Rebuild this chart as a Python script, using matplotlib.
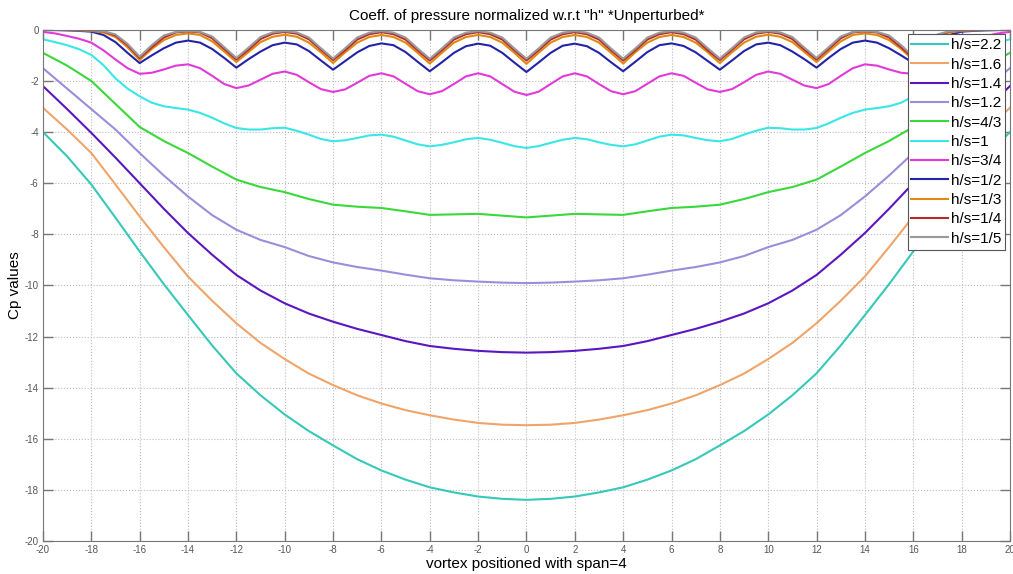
import numpy as np
from matplotlib import pyplot as plt

# x positions of the vortex (coarse for smooth curves, fine for wavy ones)
x_coarse = np.arange(-20, 21, 1)
x_fine = np.arange(-20, 20.5, 0.5)

labels = ['h/s=2.2', 'h/s=1.6', 'h/s=1.4', 'h/s=1.2', 'h/s=4/3', 'h/s=1',
          'h/s=3/4', 'h/s=1/2', 'h/s=1/3', 'h/s=1/4', 'h/s=1/5']
colors = ['#36C8B8', '#F0A46A', '#5B16C2', '#9A8EDC', '#3AD83A', '#3AE6E6',
          '#E23AD8', '#2323A8', '#E08A10', '#B82A2A', '#9A9A9A']

# smooth curves, step 1
cp_22 = [-4.0, -4.95, -6.05, -7.35, -8.67, -9.95, -11.16, -12.35, -13.44, -14.3, -15.05,
         -15.7, -16.26, -16.8, -17.24, -17.6, -17.9, -18.1, -18.26, -18.35, -18.39,
         -18.35, -18.26, -18.1, -17.9, -17.6, -17.24, -16.8, -16.26, -15.7, -15.05,
         -14.3, -13.44, -12.35, -11.16, -9.95, -8.67, -7.35, -6.05, -4.95, -4.0]
cp_16 = [-3.05, -3.9, -4.82, -6.05, -7.3, -8.5, -9.65, -10.6, -11.48, -12.25, -12.88,
         -13.45, -13.9, -14.3, -14.62, -14.88, -15.08, -15.25, -15.38, -15.45, -15.47,
         -15.45, -15.38, -15.25, -15.08, -14.88, -14.62, -14.3, -13.9, -13.45, -12.88,
         -12.25, -11.48, -10.6, -9.65, -8.5, -7.3, -6.05, -4.82, -3.9, -3.05]
cp_14 = [-2.2, -3.1, -4.03, -5.0, -6.0, -7.0, -7.95, -8.8, -9.59, -10.2, -10.7,
         -11.1, -11.42, -11.7, -11.94, -12.18, -12.37, -12.48, -12.56, -12.61, -12.63,
         -12.61, -12.56, -12.48, -12.37, -12.18, -11.94, -11.7, -11.42, -11.1, -10.7,
         -10.2, -9.59, -8.8, -7.95, -7.0, -6.0, -5.0, -4.03, -3.1, -2.2]
cp_12 = [-1.5, -2.3, -3.1, -3.9, -4.82, -5.7, -6.52, -7.25, -7.82, -8.22, -8.5,
         -8.85, -9.1, -9.28, -9.42, -9.58, -9.72, -9.8, -9.85, -9.89, -9.91,
         -9.89, -9.85, -9.8, -9.72, -9.58, -9.42, -9.28, -9.1, -8.85, -8.5,
         -8.22, -7.82, -7.25, -6.52, -5.7, -4.82, -3.9, -3.1, -2.3, -1.5]
cp_43 = [-0.9, -1.4, -2.0, -2.9, -3.8, -4.35, -4.82, -5.35, -5.86, -6.15, -6.35,
         -6.62, -6.84, -6.92, -6.97, -7.1, -7.24, -7.22, -7.2, -7.27, -7.34,
         -7.27, -7.2, -7.22, -7.24, -7.1, -6.97, -6.92, -6.84, -6.62, -6.35,
         -6.15, -5.86, -5.35, -4.82, -4.35, -3.8, -2.9, -2.0, -1.4, -0.9]

# wavy curves, step 0.5
cp_1 = [-0.37, -0.48, -0.6, -0.76, -0.98, -1.38, -1.9, -2.3, -2.6,
        -2.85, -2.99, -3.06, -3.12, -3.25, -3.44, -3.66, -3.84,
        -3.9, -3.9, -3.85, -3.83, -3.95, -4.1, -4.27, -4.36,
        -4.32, -4.23, -4.13, -4.1, -4.18, -4.33, -4.48, -4.56,
        -4.5, -4.4, -4.28, -4.23, -4.3, -4.42, -4.55, -4.62,
        -4.55, -4.42, -4.3, -4.23, -4.28, -4.4, -4.5, -4.56,
        -4.48, -4.33, -4.18, -4.1, -4.13, -4.23, -4.32, -4.36,
        -4.27, -4.1, -3.95, -3.83, -3.85, -3.9, -3.9, -3.84,
        -3.66, -3.44, -3.25, -3.12, -3.06, -2.99, -2.85, -2.6,
        -2.3, -1.9, -1.38, -0.98, -0.76, -0.6, -0.48, -0.37]
cp_34 = [-0.08, -0.14, -0.24, -0.35, -0.5, -0.8, -1.16, -1.5, -1.72,
         -1.68, -1.55, -1.4, -1.35, -1.5, -1.8, -2.12, -2.28,
         -2.18, -1.95, -1.72, -1.63, -1.76, -2.05, -2.32, -2.43,
         -2.33, -2.07, -1.8, -1.7, -1.82, -2.11, -2.4, -2.52,
         -2.4, -2.12, -1.82, -1.7, -1.82, -2.12, -2.42, -2.55,
         -2.42, -2.12, -1.82, -1.7, -1.82, -2.12, -2.4, -2.52,
         -2.4, -2.11, -1.82, -1.7, -1.8, -2.07, -2.33, -2.43,
         -2.32, -2.05, -1.76, -1.63, -1.72, -1.95, -2.18, -2.28,
         -2.12, -1.8, -1.5, -1.35, -1.4, -1.55, -1.68, -1.72,
         -1.5, -1.16, -0.8, -0.5, -0.35, -0.24, -0.14, -0.08]
cp_12b = [0.0, -0.01, -0.02, -0.04, -0.07, -0.2, -0.48, -0.9, -1.3,
          -1.0, -0.72, -0.5, -0.42, -0.5, -0.75, -1.1, -1.48,
          -1.15, -0.85, -0.6, -0.5, -0.57, -0.83, -1.2, -1.56,
          -1.22, -0.88, -0.63, -0.53, -0.6, -0.87, -1.25, -1.62,
          -1.27, -0.9, -0.64, -0.54, -0.62, -0.9, -1.28, -1.65,
          -1.28, -0.9, -0.62, -0.54, -0.64, -0.9, -1.27, -1.62,
          -1.25, -0.87, -0.6, -0.53, -0.63, -0.88, -1.22, -1.56,
          -1.2, -0.83, -0.57, -0.5, -0.6, -0.85, -1.15, -1.48,
          -1.1, -0.75, -0.5, -0.42, -0.5, -0.72, -1.0, -1.3,
          -0.9, -0.48, -0.2, -0.07, -0.04, -0.02, -0.01, 0.0]
cp_13 = [0.0, 0.0, -0.01, -0.02, -0.04, -0.1, -0.28, -0.68, -1.18,
         -0.75, -0.4, -0.2, -0.14, -0.2, -0.45, -0.85, -1.26,
         -0.87, -0.48, -0.27, -0.19, -0.27, -0.5, -0.88, -1.3,
         -0.88, -0.5, -0.28, -0.2, -0.28, -0.5, -0.9, -1.32,
         -0.9, -0.5, -0.28, -0.2, -0.28, -0.5, -0.9, -1.33,
         -0.9, -0.5, -0.28, -0.2, -0.28, -0.5, -0.9, -1.32,
         -0.88, -0.5, -0.28, -0.2, -0.28, -0.5, -0.88, -1.3,
         -0.88, -0.5, -0.27, -0.19, -0.27, -0.48, -0.87, -1.26,
         -0.85, -0.45, -0.2, -0.14, -0.2, -0.4, -0.75, -1.18,
         -0.68, -0.28, -0.1, -0.04, -0.02, -0.01, 0.0, 0.0]
cp_14b = [0.0, 0.0, 0.0, -0.01, -0.02, -0.06, -0.22, -0.6, -1.1,
          -0.68, -0.3, -0.1, -0.06, -0.1, -0.33, -0.75, -1.16,
          -0.78, -0.36, -0.15, -0.08, -0.15, -0.37, -0.78, -1.18,
          -0.8, -0.38, -0.17, -0.09, -0.17, -0.38, -0.8, -1.2,
          -0.8, -0.38, -0.17, -0.09, -0.17, -0.38, -0.8, -1.2,
          -0.8, -0.38, -0.17, -0.09, -0.17, -0.38, -0.8, -1.2,
          -0.8, -0.38, -0.17, -0.09, -0.17, -0.38, -0.8, -1.18,
          -0.78, -0.37, -0.15, -0.08, -0.15, -0.36, -0.78, -1.16,
          -0.75, -0.33, -0.1, -0.06, -0.1, -0.3, -0.68, -1.1,
          -0.6, -0.22, -0.06, -0.02, -0.01, 0.0, 0.0, 0.0]
cp_15 = [0.0, 0.0, 0.0, -0.01, -0.02, -0.05, -0.18, -0.55, -1.05,
         -0.6, -0.22, -0.08, -0.04, -0.08, -0.26, -0.68, -1.1,
         -0.7, -0.28, -0.1, -0.05, -0.1, -0.3, -0.72, -1.12,
         -0.72, -0.3, -0.11, -0.05, -0.11, -0.3, -0.73, -1.13,
         -0.73, -0.3, -0.11, -0.05, -0.11, -0.3, -0.73, -1.13,
         -0.73, -0.3, -0.11, -0.05, -0.11, -0.3, -0.73, -1.13,
         -0.73, -0.3, -0.11, -0.05, -0.11, -0.3, -0.72, -1.12,
         -0.72, -0.3, -0.1, -0.05, -0.1, -0.28, -0.7, -1.1,
         -0.68, -0.26, -0.08, -0.04, -0.08, -0.22, -0.6, -1.05,
         -0.55, -0.18, -0.05, -0.02, -0.01, 0.0, 0.0, 0.0]

series = [(x_coarse, cp_22), (x_coarse, cp_16), (x_coarse, cp_14), (x_coarse, cp_12),
          (x_coarse, cp_43), (x_fine, cp_1), (x_fine, cp_34), (x_fine, cp_12b),
          (x_fine, cp_13), (x_fine, cp_14b), (x_fine, cp_15)]

plt.rcParams['font.family'] = ['Liberation Sans', 'DejaVu Sans']
plt.rcParams['axes.unicode_minus'] = False
fig = plt.figure(figsize=(10.13, 5.74), dpi=100)
ax = fig.add_axes([0.0424, 0.0575, 0.9546, 0.8905])

for (xs, ys), lab, col in zip(series, labels, colors):
    ax.plot(xs, ys, color=col, linewidth=1.5, label=lab)

ax.set_xlim(-20, 20)
ax.set_ylim(-20, 0)
ax.set_xticks(range(-20, 21, 2))
ax.set_yticks(range(-20, 1, 2))
ax.grid(True, color='#bbbbbb', linestyle=':', linewidth=0.8)
ax.tick_params(direction='in', length=7, width=1, color='#777777', labelsize=7,
               labelcolor='#555555', top=True, right=True, pad=3)
for s in ax.spines.values():
    s.set_color('#777777')

ax.set_title('Coeff. of pressure normalized w.r.t "h" *Unperturbed*', fontsize=11, pad=7)
ax.set_xlabel('vortex positioned with span=4', fontsize=11, labelpad=1)
ax.set_ylabel('Cp values', fontsize=11, labelpad=2)

leg = ax.legend(loc='upper right', fontsize=11, handlelength=2.4, handletextpad=0.2,
                labelspacing=0.35, borderpad=0.25, borderaxespad=0.3, fancybox=False,
                framealpha=1)
leg.get_frame().set_edgecolor('#555555')
leg.get_frame().set_linewidth(0.8)

fig.savefig('out.png', dpi=100)
